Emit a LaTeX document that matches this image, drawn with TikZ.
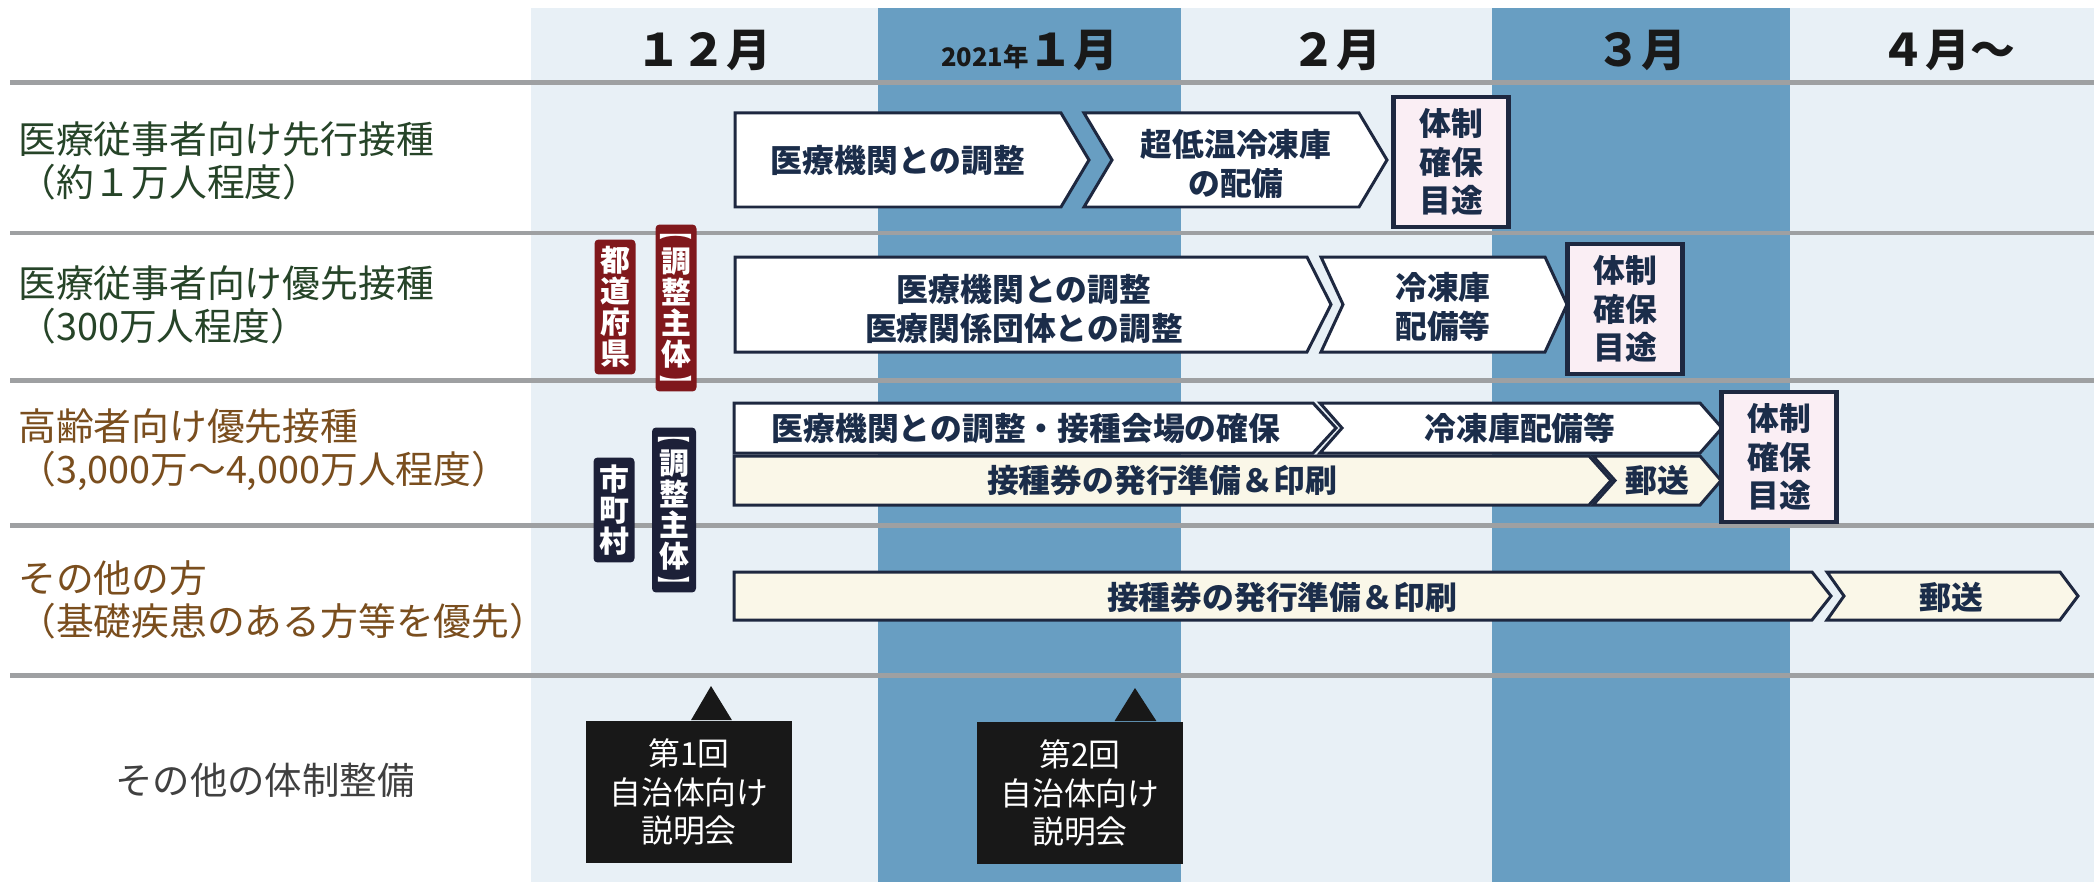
\documentclass[tikz,border=0pt]{standalone}
\usepackage{fontspec}
\setmainfont{Noto Sans CJK JP}
\usetikzlibrary{%
  positioning,%
  calc%
}

\definecolor{monthdark}{RGB}{104,158,194}
\definecolor{monthlight}{RGB}{232,240,246}
\definecolor{rulegray}{RGB}{158,160,162}
\definecolor{navyline}{RGB}{30,40,64}
\definecolor{navytext}{RGB}{27,45,74}
\definecolor{rowgreen}{RGB}{38,68,40}
\definecolor{rowbrown}{RGB}{122,78,30}
\definecolor{goalpink}{RGB}{250,238,244}
\definecolor{ticketcream}{RGB}{250,247,232}
\definecolor{tagred}{RGB}{128,24,28}
\definecolor{tagnavy}{RGB}{28,32,56}
\definecolor{talkblack}{RGB}{24,24,24}

\begin{document}
\begin{tikzpicture}
  [
  x=0.02cm, y=-0.02cm, line join=miter,
  month/.style={font=\bfseries\fontsize{25.5}{26}\selectfont, text=black!90},
  rowlabel/.style={anchor=west, align=left, inner sep=0pt, font=\fontsize{21.5}{24.5}\selectfont},
  stage/.style={draw=navyline, line width=0.06cm},
  task/.style={align=center, inner sep=0pt, text=navytext, font=\bfseries\fontsize{18.1}{22}\selectfont},
  goal/.style={rectangle, draw=navyline, line width=0.09cm, fill=goalpink, minimum width=2.3cm, minimum height=2.6cm, task},
  tag/.style={rectangle, rounded corners=0.08cm, text=white, align=center, inner sep=0pt, minimum width=0.82cm, font=\bfseries\fontsize{17}{17.6}\selectfont},
  bracket/.style={inner sep=0pt, text=white, font=\bfseries\fontsize{17}{17}\selectfont},
  talk/.style={rectangle, fill=talkblack, text=white, align=center, inner sep=0pt, minimum width=4.14cm, minimum height=2.86cm, font=\fontsize{18.1}{22}\selectfont}
  ]

\useasboundingbox (0,0) rectangle (2094,882);
\fill[white] (0,0) rectangle (2094,882);
\foreach \a/\b/\c in {531/878/monthlight, 878/1181/monthdark, 1181/1492/monthlight, 1492/1790/monthdark, 1790/2094/monthlight} {
  \fill[\c] (\a,8) rectangle (\b,882);
}

\node[month] (m12) at (704,50) {１２月};
\node[month] (m1) at (1030,50) {{\fontsize{14.5}{15}\selectfont 2021年}１月};
\node[month] (m2) at (1336,50) {２月};
\node[month] (m3) at (1641,50) {３月};
\node[month] (m4) at (1948,50) {４月～};

\foreach \y in {83,233,380,525,675} {
  \draw[rulegray, line width=0.1cm] (10,\y) -- (2094,\y);
}

\node[rowlabel, text=rowgreen] (row1) at (18,161) {医療従事者向け先行接種\\（約１万人程度）};
\node[rowlabel, text=rowgreen] (row2) at (18,305) {医療従事者向け優先接種\\（300万人程度）};
\node[rowlabel, text=rowbrown] (row3) at (18,450) {高齢者向け優先接種\\（3,000万～4,000万人程度）};
\node[rowlabel, text=rowbrown] (row4) at (18,600) {その他の方\\（基礎疾患のある方等を優先）};
\node[font=\fontsize{21.3}{24}\selectfont, text=black!75] (other) at (265,780) {その他の体制整備};

\node[tag, fill=tagred, minimum height=2.7cm] (pref) at (615,307) {都\\道\\府\\県};
\node[tag, fill=tagred, minimum height=3.34cm] (prefhead) at (676,308) {調\\整\\主\\体};
\node[bracket] (prefopen) at ([yshift=-0.16cm]prefhead.north) {\scalebox{1.1}[0.55]{\rotatebox{-90}{【}}};
\node[bracket] (prefclose) at ([yshift=0.16cm]prefhead.south) {\scalebox{1.1}[0.55]{\rotatebox{-90}{】}}};
\node[tag, fill=tagnavy, minimum height=2.1cm] (city) at (614,510) {市\\町\\村};
\node[tag, fill=tagnavy, minimum height=3.3cm, minimum width=0.88cm] (cityhead) at (674,510) {調\\整\\主\\体};
\node[bracket] (cityopen) at ([yshift=-0.16cm]cityhead.north) {\scalebox{1.1}[0.55]{\rotatebox{-90}{【}}};
\node[bracket] (cityclose) at ([yshift=0.16cm]cityhead.south) {\scalebox{1.1}[0.55]{\rotatebox{-90}{】}}};

\foreach \l/\n/\r/\t/\a/\b/\c in {735/0/1061/1089/113/207/white, 1084/28/1359/1387/113/207/white,
  735/0/1307/1331/257/352/white, 1321/22/1545/1567/257/352/white,
  734/0/1313/1336/403/453/white, 1320/22/1700/1722/403/453/white,
  734/0/1589/1611/456/505/ticketcream, 1593/22/1700/1721/456/505/ticketcream,
  734/0/1812/1831/572/620/ticketcream, 1827/17/2060/2078/572/620/ticketcream} {
  \draw[stage, fill=\c] (\l,\a) -- (\r,\a) -- (\t,{(\a+\b)/2}) -- (\r,\b) -- (\l,\b) -- ({\l+\n},{(\a+\b)/2}) -- cycle;
}

\node[task] (coord1) at (898,160) {医療機関との調整};
\node[task] (cold1) at (1236,164) {超低温冷凍庫\\の配備};
\node[task] (coord2) at (1024,309) {医療機関との調整\\医療関係団体との調整};
\node[task] (cold2) at (1443,307) {冷凍庫\\配備等};
\node[task] (coord3) at (1026,428) {医療機関との調整・接種会場の確保};
\node[task] (cold3) at (1520,428) {冷凍庫配備等};
\node[task] (print3) at (1162,480) {接種券の発行準備＆印刷};
\node[task] (mail3) at (1657,480) {郵送};
\node[task] (print4) at (1282,597) {接種券の発行準備＆印刷};
\node[task] (mail4) at (1951,597) {郵送};

\node[goal] (goal1) at (1451,162) {体制\\確保\\目途};
\node[goal] (goal2) at (1625,309) {体制\\確保\\目途};
\node[goal] (goal3) at (1779,457) {体制\\確保\\目途};

\node[talk] (talk1) at (689,792) {第1回\\自治体向け\\説明会};
\node[talk] (talk2) at (1080,793) {第2回\\自治体向け\\説明会};
\coordinate (pin1) at (711,686);
\coordinate (pin2) at (1135,688);
\fill[talkblack] ([xshift=0.04cm]talk1.north) -- (pin1) -- ([xshift=0.86cm]talk1.north) -- cycle;
\fill[talkblack] ([xshift=0.69cm]talk2.north) -- (pin2) -- ([xshift=1.53cm]talk2.north) -- cycle;
\end{tikzpicture}
\end{document}
